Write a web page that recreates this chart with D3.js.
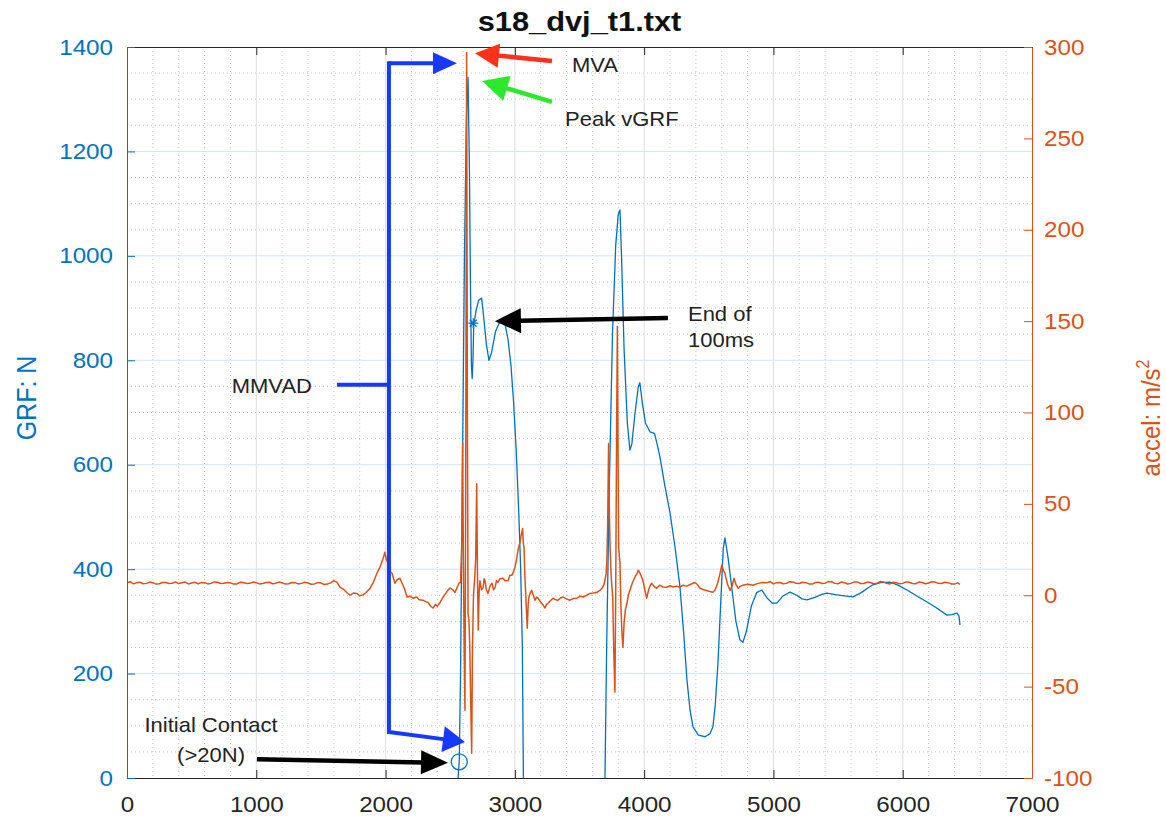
<!DOCTYPE html>
<html>
<head>
<meta charset="utf-8">
<script src="https://cdn.jsdelivr.net/npm/d3@7"></script>
<style>
  html, body { margin: 0; padding: 0; background: #fff; }
  svg { display: block; }
</style>
</head>
<body>
<svg id="chart" width="1166" height="822"></svg>
<script>
// ---------------- DATA ----------------
const chartTitle = "s18_dvj_t1.txt";
const xTickValues = [0, 1000, 2000, 3000, 4000, 5000, 6000, 7000];
const grfTickValues = [0, 200, 400, 600, 800, 1000, 1200, 1400];
const accelTickValues = [-100, -50, 0, 50, 100, 150, 200, 250, 300];

// GRF (N) vs time (ms) — left axis
const grfSeries = [
  [2540, -40], [2555, -20], [2565, 15], [2570, 31], [2580, 200], [2595, 600], [2610, 1000],
  [2625, 1260], [2638, 1342], [2648, 1180], [2656, 960], [2664, 790], [2670, 765], [2676, 800],
  [2682, 868], [2700, 895], [2720, 915], [2743, 919], [2760, 880], [2780, 830], [2800, 800],
  [2820, 815], [2850, 855], [2880, 872], [2900, 878], [2925, 868], [2947, 840], [2970, 790],
  [2990, 720], [3010, 630], [3030, 510], [3045, 400], [3058, 250], [3066, 0], [3075, -300],
  [3690, -300], [3697, 0], [3710, 250], [3730, 550], [3755, 850], [3780, 1020], [3800, 1080],
  [3813, 1088], [3825, 1000], [3845, 820], [3870, 680], [3890, 628], [3905, 640], [3930, 700],
  [3955, 750], [3967, 757], [3985, 720], [4010, 680], [4045, 663], [4080, 660], [4100, 640],
  [4122, 615], [4160, 560], [4200, 508], [4240, 440], [4277, 366], [4305, 280], [4331, 188],
  [4355, 130], [4378, 98], [4420, 82], [4471, 79], [4510, 85], [4532, 98], [4550, 140],
  [4571, 220], [4595, 350], [4612, 440], [4625, 460], [4650, 420], [4680, 360], [4710, 300],
  [4740, 265], [4764, 260], [4790, 280], [4830, 330], [4870, 355], [4911, 360], [4950, 345],
  [4990, 335], [5027, 335], [5070, 348], [5128, 356], [5180, 350], [5220, 343], [5260, 341],
  [5320, 346], [5380, 352], [5414, 354], [5480, 351], [5550, 349], [5615, 347], [5680, 355],
  [5730, 364], [5770, 370], [5830, 374], [5901, 375], [5960, 370], [6033, 360], [6100, 350],
  [6188, 337], [6260, 326], [6342, 312], [6380, 313], [6420, 316], [6435, 310], [6443, 293]
];

// Acceleration (m/s^2) vs time (ms) — right axis
const accelSeries = [
  [0, 6.8], [25, 7.4], [50, 6.2], [75, 6.9], [100, 7.1], [125, 6.3], [150, 6.5], [175, 7.2],
  [200, 6.9], [225, 6.1], [250, 6.3], [275, 7.0], [300, 7.0], [325, 6.4], [350, 6.6], [375, 7.3],
  [400, 6.4], [425, 6.8], [450, 7.2], [475, 6.2], [500, 6.7], [525, 7.1], [550, 6.3], [575, 6.9],
  [600, 6.9], [625, 6.2], [650, 6.5], [675, 7.3], [700, 7.1], [725, 6.4], [750, 6.6], [775, 7.0],
  [800, 6.8], [825, 6.1], [850, 6.2], [875, 7.1], [900, 7.0], [925, 6.4], [950, 6.5], [975, 7.2],
  [1000, 6.9], [1025, 6.2], [1050, 6.4], [1075, 7.0], [1100, 7.1], [1125, 6.3], [1150, 6.6], [1175, 7.2],
  [1200, 6.8], [1225, 6.1], [1250, 6.3], [1275, 7.0], [1300, 6.9], [1325, 6.2], [1350, 6.5], [1375, 7.1],
  [1400, 6.7], [1425, 6.0], [1450, 6.2], [1475, 6.9], [1500, 6.8], [1525, 5.9], [1550, 6.1], [1575, 6.8],
  [1600, 8.0], [1625, 7.0], [1647, 4.5], [1680, 3.0], [1700, 1.5], [1725, 0], [1750, 1.2], [1777, 1],
  [1800, -0.3], [1825, 0.2], [1850, 1.5], [1880, 3.8], [1905, 7], [1933, 12], [1960, 16], [1980, 20],
  [1995, 23.5], [2005, 20], [2019, 17.5], [2035, 13], [2050, 12], [2062, 9], [2073, 6.6], [2090, 8.5],
  [2111, 9.3], [2125, 7], [2135, 5.5], [2150, 2.7], [2166, -1], [2190, -0.5], [2212, -1.6], [2240, -1],
  [2260, -2.5], [2289, -2.7], [2310, -3.5], [2330, -4], [2350, -6], [2367, -7], [2385, -5], [2400, -6],
  [2421, -4], [2440, -1.5], [2460, 0.5], [2480, 2.5], [2498, 4], [2520, 3], [2537, 1.5], [2555, 4.5],
  [2568, 6.6], [2580, 7], [2590, 30], [2596, 83], [2602, 20], [2608, -30], [2614, -63], [2619, 40],
  [2627, 297], [2633, 100], [2638, -10], [2645, -14], [2652, -30], [2659, -60], [2666, -86.5], [2672, -30],
  [2680, 0], [2690, 10], [2697, 20], [2705, 61], [2711, 10], [2717, -19], [2724, 2], [2730, 8],
  [2742, 3], [2754, 4], [2762, 9], [2769, 8], [2780, 3], [2792, 1], [2808, 5], [2823, 6.6],
  [2835, 3], [2846, 4], [2858, 8], [2869, 7], [2885, 9], [2908, 9.3], [2925, 8], [2947, 8],
  [2962, 11], [2978, 11], [2990, 13], [3001, 15.5], [3012, 19], [3024, 24.6], [3032, 27], [3040, 29],
  [3050, 33], [3060, 36.5], [3066, 28], [3071, 26], [3078, 10], [3086, -2.7], [3096, -18], [3103, -5],
  [3109, -1], [3120, 1.5], [3130, 2.7], [3143, 0], [3156, -2.7], [3168, -1], [3179, -1.6], [3192, -3],
  [3207, -4.4], [3220, -5.5], [3233, -7], [3245, -5], [3256, -4.4], [3275, -3], [3295, -1.6], [3315, -2.5],
  [3334, -2.7], [3352, -1.5], [3372, -1], [3400, -2], [3426, -2.7], [3452, -1.8], [3480, -1.6], [3505, -0.5],
  [3527, -1], [3555, 0], [3581, 1], [3608, 1.2], [3635, 1.6], [3655, 2.5], [3674, 3.8], [3690, 6],
  [3697, 8.2], [3706, 12], [3712, 19], [3718, 40], [3725, 83], [3730, 50], [3736, 28], [3745, 10],
  [3757, -1], [3765, -30], [3774, -53], [3780, 0], [3787, 90], [3793, 147], [3798, 80], [3803, 26],
  [3808, 22], [3813, 17.5], [3820, -5], [3828, -20], [3836, -28.5], [3845, -15], [3855, -8], [3867, -4.4],
  [3878, 0], [3890, 2.7], [3910, 7], [3929, 10], [3945, 12], [3955, 13.7], [3968, 12], [3980, 10],
  [3991, 8], [4005, 3], [4020, -1.6], [4035, 3], [4045, 5], [4058, 6.6], [4075, 5], [4097, 3.8],
  [4120, 5.5], [4146, 4.5], [4174, 4.4], [4200, 5.2], [4225, 4.5], [4250, 5], [4277, 4.4], [4300, 5.5],
  [4330, 5], [4360, 6], [4393, 7], [4410, 6], [4432, 3.8], [4460, 3], [4490, 2.5], [4510, 2],
  [4532, 1.6], [4550, 3], [4570, 7], [4587, 12], [4600, 16.4], [4612, 14], [4625, 12], [4645, 6],
  [4664, 2.7], [4680, 5], [4695, 9.3], [4710, 6], [4728, 3.8], [4745, 5], [4764, 5.5], [4800, 6],
  [4842, 5.5], [4880, 6.5], [4919, 7], [4950, 6.8], [4975, 7.5], [5000, 6.2], [5025, 6.9], [5050, 7.0],
  [5075, 6.3], [5100, 6.5], [5125, 7.4], [5150, 7.3], [5175, 6.5], [5200, 6.4], [5225, 7.1], [5250, 6.9],
  [5275, 6.2], [5300, 6.1], [5325, 7.0], [5350, 7.1], [5375, 6.4], [5400, 6.6], [5425, 7.5], [5450, 7.4],
  [5475, 6.5], [5500, 6.3], [5525, 7.2], [5550, 6.8], [5575, 6.2], [5600, 6.5], [5625, 7.3], [5650, 7.2],
  [5675, 6.4], [5700, 6.4], [5725, 7.2], [5750, 7.0], [5775, 6.3], [5800, 6.6], [5825, 7.5], [5850, 7.3],
  [5875, 6.5], [5900, 6.2], [5925, 7.1], [5950, 6.9], [5975, 6.3], [6000, 6.5], [6025, 7.3], [6050, 7.1],
  [6075, 6.4], [6100, 6.3], [6125, 7.2], [6150, 7.0], [6175, 6.3], [6200, 6.7], [6225, 7.4], [6250, 7.2],
  [6275, 6.5], [6300, 6.4], [6325, 7.1], [6350, 6.9], [6375, 6.2], [6400, 6.1], [6425, 6.8], [6443, 6.0]
];

// Event markers (time ms, GRF N)
const initialContact = [2570, 31];
const end100ms = [2678, 871];

// ---------------- LAYOUT ----------------
const W = 1166, H = 822;
const L = 127, R = 1032, T = 47, B = 778;
const FONT = "'Liberation Sans', Arial, Helvetica, sans-serif";
const SX = 1.1;            // horizontal glyph stretch of the reference
const BLUE = "#0072BD", ORANGE = "#D95319", DARK = "#262626";

const svg = d3.select("#chart");

const x = d3.scaleLinear().domain([0, 7000]).range([L, R]);
const yL = d3.scaleLinear().domain([0, 1400]).range([B, T]);
const yR = d3.scaleLinear().domain([-100, 300]).range([B, T]);

// ---------------- GRID ----------------
const grid = svg.append("g");
const xMinor = d3.range(0, 7001, 200).filter(v => v % 1000 !== 0);
const yMinor = d3.range(0, 1401, 50).filter(v => v % 200 !== 0);
grid.selectAll(".vminor").data(xMinor).join("line")
  .attr("x1", d => x(d)).attr("x2", d => x(d)).attr("y1", T).attr("y2", B)
  .attr("stroke", "#c4c4c4").attr("stroke-width", 1).attr("stroke-dasharray", "1,3");
grid.selectAll(".hminor").data(yMinor).join("line")
  .attr("x1", L).attr("x2", R).attr("y1", d => yL(d)).attr("y2", d => yL(d))
  .attr("stroke", "#c4c4c4").attr("stroke-width", 1).attr("stroke-dasharray", "1,3");
grid.selectAll(".vmajor").data(xTickValues.slice(1, -1)).join("line")
  .attr("x1", d => x(d)).attr("x2", d => x(d)).attr("y1", T).attr("y2", B)
  .attr("stroke", "#dedede").attr("stroke-width", 1);
grid.selectAll(".hmajor").data(grfTickValues.slice(1, -1)).join("line")
  .attr("x1", L).attr("x2", R).attr("y1", d => yL(d)).attr("y2", d => yL(d))
  .attr("stroke", "#d3e5f3").attr("stroke-width", 1);

// ---------------- LINES ----------------
svg.append("clipPath").attr("id", "plotclip").append("rect")
  .attr("x", L).attr("y", T).attr("width", R - L).attr("height", B - T);
const plot = svg.append("g").attr("clip-path", "url(#plotclip)");

plot.append("path").datum(grfSeries)
  .attr("fill", "none").attr("stroke", BLUE).attr("stroke-width", 1.3)
  .attr("stroke-linejoin", "round")
  .attr("d", d3.line().x(d => x(d[0])).y(d => yL(d[1])));

plot.append("path").datum(accelSeries)
  .attr("fill", "none").attr("stroke", ORANGE).attr("stroke-width", 1.5)
  .attr("stroke-linejoin", "round")
  .attr("d", d3.line().x(d => x(d[0])).y(d => yR(d[1])));

// markers
plot.append("circle").attr("cx", x(initialContact[0])).attr("cy", yL(initialContact[1]))
  .attr("r", 8).attr("fill", "none").attr("stroke", BLUE).attr("stroke-width", 1.3);
{
  const cx = x(end100ms[0]), cy = yL(end100ms[1]), s = 5;
  plot.append("path")
    .attr("d", `M${cx - s},${cy}H${cx + s}M${cx},${cy - s}V${cy + s}M${cx - s * 0.7},${cy - s * 0.7}L${cx + s * 0.7},${cy + s * 0.7}M${cx - s * 0.7},${cy + s * 0.7}L${cx + s * 0.7},${cy - s * 0.7}`)
    .attr("stroke", BLUE).attr("stroke-width", 1.2).attr("fill", "none");
}

// ---------------- AXES ----------------
function stretchTexts(sel) {
  sel.each(function () {
    const t = d3.select(this);
    const xa = +t.attr("x") || 0;
    t.attr("x", 0).attr("transform", `translate(${xa},0) scale(${SX},1)`);
  });
}
const plainFmt = d => String(d);

const gxB = svg.append("g").attr("transform", `translate(0,${B})`)
  .call(d3.axisBottom(x).tickValues(xTickValues).tickSizeInner(-8).tickSizeOuter(0).tickPadding(18).tickFormat(plainFmt));
gxB.select(".domain").attr("stroke", DARK);
gxB.selectAll(".tick line").attr("stroke", DARK);
gxB.selectAll("text").attr("font-size", 22).attr("font-family", FONT).attr("fill", DARK);
stretchTexts(gxB.selectAll("text"));

const gxT = svg.append("g").attr("transform", `translate(0,${T})`)
  .call(d3.axisTop(x).tickValues(xTickValues).tickSizeInner(-8).tickSizeOuter(0).tickFormat(""));
gxT.select(".domain").attr("stroke", DARK);
gxT.selectAll(".tick line").attr("stroke", DARK);

const gyL = svg.append("g").attr("transform", `translate(${L},0)`)
  .call(d3.axisLeft(yL).tickValues(grfTickValues).tickSizeInner(-8).tickSizeOuter(0).tickPadding(14).tickFormat(plainFmt));
gyL.select(".domain").attr("stroke", BLUE);
gyL.selectAll(".tick line").attr("stroke", BLUE);
gyL.selectAll("text").attr("font-size", 22).attr("font-family", FONT).attr("fill", BLUE);
stretchTexts(gyL.selectAll("text"));

const gyR = svg.append("g").attr("transform", `translate(${R},0)`)
  .call(d3.axisRight(yR).tickValues(accelTickValues).tickSizeInner(-8).tickSizeOuter(0).tickPadding(12).tickFormat(plainFmt));
gyR.select(".domain").attr("stroke", ORANGE);
gyR.selectAll(".tick line").attr("stroke", ORANGE);
gyR.selectAll("text").attr("font-size", 22).attr("font-family", FONT).attr("fill", ORANGE);
stretchTexts(gyR.selectAll("text"));

// ---------------- TEXT ----------------
function label(px, py, str, o = {}) {
  const tr = `translate(${px},${py}) scale(${SX},1)` + (o.rotate ? ` rotate(${o.rotate})` : "");
  const t = svg.append("g").attr("transform", tr).append("text")
    .attr("font-family", FONT).attr("font-size", o.size || 20)
    .attr("fill", o.fill || "#222").attr("text-anchor", o.anchor || "start")
    .attr("font-weight", o.weight || "normal").text(str);
  return t;
}

label((L + R) / 2, 31, chartTitle, { size: 28, weight: "bold", anchor: "middle", fill: "#111" });
label(36, 398, "GRF: N", { size: 25, anchor: "middle", rotate: -90, fill: BLUE });
{
  const t = label(1160, 418, "accel: m/s", { size: 24, anchor: "middle", rotate: -90, fill: ORANGE });
  t.append("tspan").attr("dy", -10).attr("font-size", 16).text("2");
}

// ---------------- ANNOTATIONS ----------------
const ann = svg.append("g");
function P(t, g) { return [x(t), yL(g)]; }
function arrow(from, tip, color, w, len, wid) {
  const dx = tip[0] - from[0], dy = tip[1] - from[1];
  const d = Math.hypot(dx, dy), ux = dx / d, uy = dy / d;
  const bx = tip[0] - ux * len, by = tip[1] - uy * len;
  const nx = -uy, ny = ux;
  ann.append("line").attr("x1", from[0]).attr("y1", from[1]).attr("x2", bx + ux * 2).attr("y2", by + uy * 2)
    .attr("stroke", color).attr("stroke-width", w);
  ann.append("polygon")
    .attr("points", [[tip[0], tip[1]], [bx + nx * wid / 2, by + ny * wid / 2], [bx - nx * wid / 2, by - ny * wid / 2]].map(p => p.join(",")).join(" "))
    .attr("fill", color);
}

const ABLUE = "#1638ff", ARED = "#ff3219", AGREEN = "#2de82d", ABLACK = "#000";

// MMVAD bracket
const cornerTop = P(2026, 1369), cornerBot = P(2026, 88);
ann.append("line").attr("x1", cornerTop[0]).attr("y1", cornerTop[1] - 2).attr("x2", cornerBot[0]).attr("y2", cornerBot[1] + 2)
  .attr("stroke", ABLUE).attr("stroke-width", 4);
arrow(cornerTop, P(2552, 1369), ABLUE, 4, 24, 22);
arrow(cornerBot, P(2614, 69), ABLUE, 4, 22, 26);
{
  const a = P(1624, 753), b = P(2026, 753);
  ann.append("line").attr("x1", a[0]).attr("y1", a[1]).attr("x2", b[0]).attr("y2", b[1])
    .attr("stroke", ABLUE).attr("stroke-width", 4);
}

arrow(P(3287, 1373), P(2692, 1388), ARED, 4.5, 24, 24);
arrow(P(3287, 1295), P(2746, 1335), AGREEN, 4.5, 26, 26);
arrow(P(4184, 881), P(2846, 875), ABLACK, 4.5, 26, 25);
arrow(P(1005, 36), P(2483, 29), ABLACK, 4.5, 27, 24);

{
  let p;
  p = P(3442, 1352); label(p[0], p[1], "MVA", { size: 20 });
  p = P(3388, 1249); label(p[0], p[1], "Peak vGRF", { size: 20 });
  p = P(4339, 875); label(p[0], p[1], "End of", { size: 20 });
  p = P(4339, 825); label(p[0], p[1], "100ms", { size: 20 });
  p = P(810, 738); label(p[0], p[1], "MMVAD", { size: 20 });
  p = P(650, 88); label(p[0], p[1], "Initial Contact", { size: 20, anchor: "middle" });
  p = P(650, 31); label(p[0], p[1], "(>20N)", { size: 20, anchor: "middle" });
}
</script>
</body>
</html>
